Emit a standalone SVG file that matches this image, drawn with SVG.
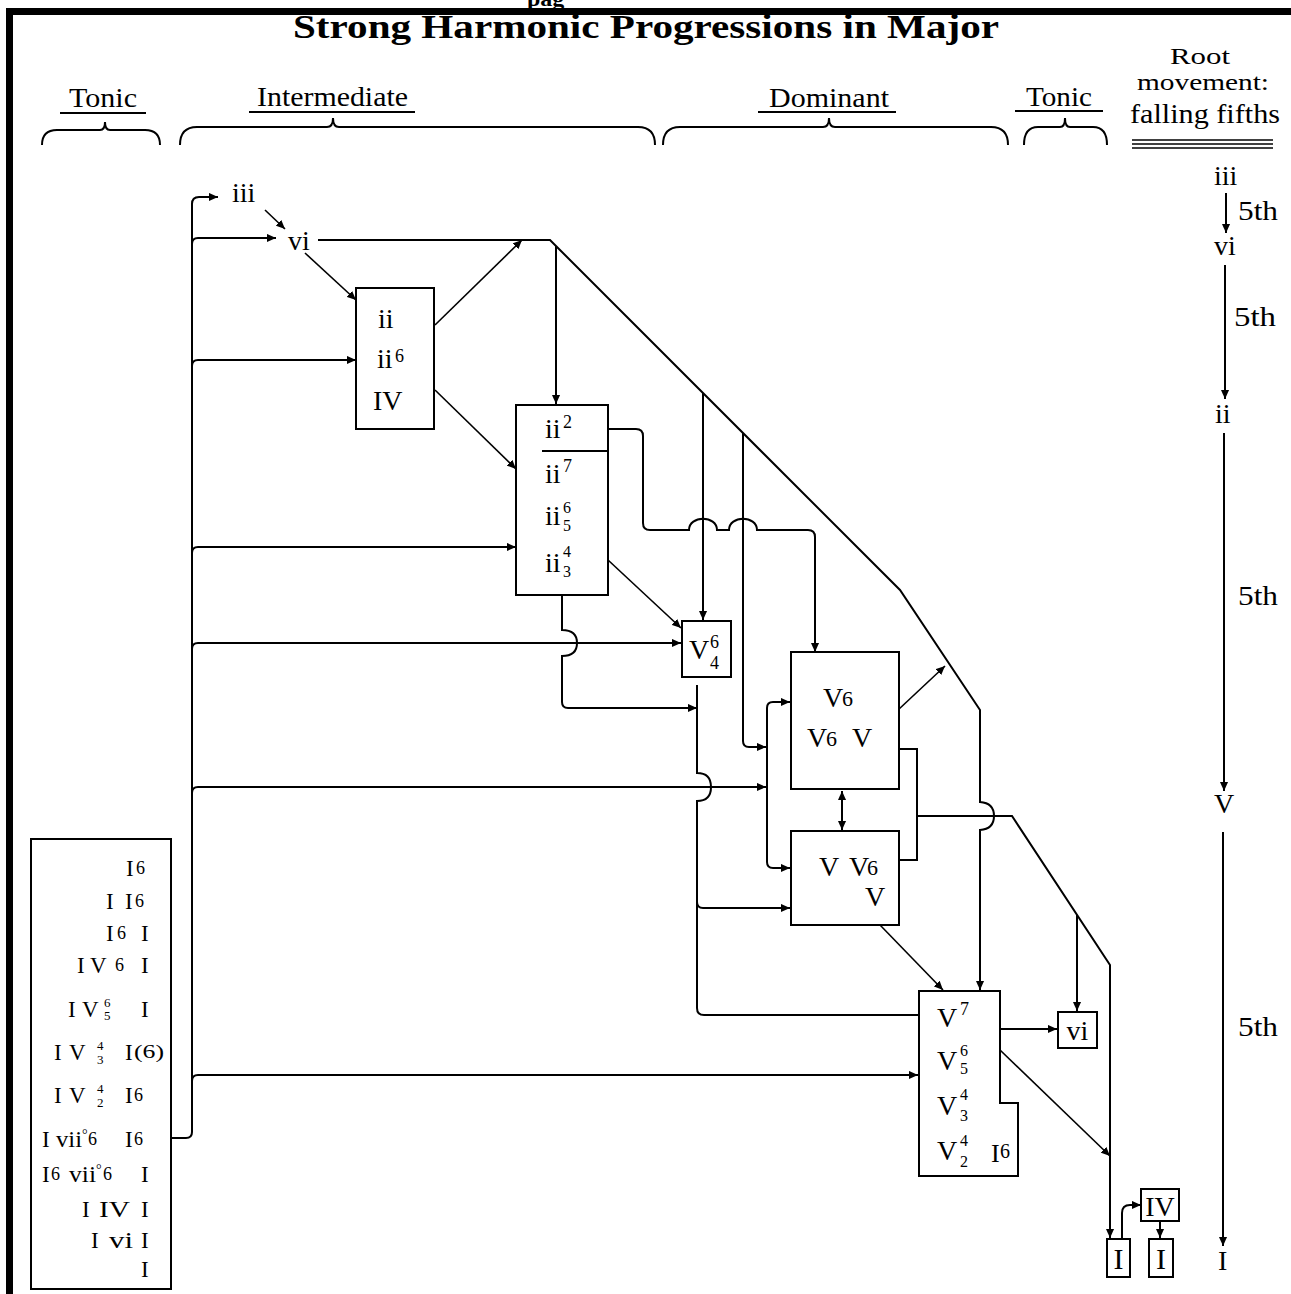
<svg xmlns="http://www.w3.org/2000/svg" width="1291" height="1294" viewBox="0 0 1291 1294">
<defs>
<marker id="a" viewBox="0 0 10 10" refX="10" refY="5" markerWidth="9" markerHeight="9" markerUnits="userSpaceOnUse" orient="auto-start-reverse"><path d="M0,0.5 L10,5 L0,9.5 z" fill="#000"/></marker>
</defs>
<style>
text{font-family:"Liberation Serif","Times New Roman",serif;fill:#000}
.h{font-size:28px}
.b{font-size:28px}
.s{font-size:18px}
.k{font-size:16px}
.l{font-size:23px}
.ls{font-size:18px}
.st{font-size:13px}
.box{fill:#fff;stroke:#000;stroke-width:2}
.c{fill:none;stroke:#000;stroke-width:2}
.d{fill:none;stroke:#000;stroke-width:1.6}
.u{stroke:#000;stroke-width:2}
</style>
<rect width="1291" height="1294" fill="#fff"/>
<!-- frame -->
<g id="frame">
<rect x="6" y="8" width="1285" height="7" fill="#000"/>
<rect x="6" y="8" width="7" height="1286" fill="#000"/>
<text x="527" y="6" style="font-size:24px;font-weight:bold">pag</text>
<text x="293" y="38" style="font-size:33px;font-weight:bold" textLength="706" lengthAdjust="spacingAndGlyphs">Strong Harmonic Progressions in Major</text>
</g>
<!-- headers -->
<g id="headers">
<text class="h" x="69" y="107" textLength="68" lengthAdjust="spacingAndGlyphs">Tonic</text>
<line class="u" x1="60" y1="113" x2="146" y2="113"/>
<path class="c" d="M42,145 Q42,130 57,130 H100 Q105,130 105,122 Q105,130 110,130 H145 Q160,130 160,145"/>
<text class="h" x="257" y="106" textLength="151" lengthAdjust="spacingAndGlyphs">Intermediate</text>
<line class="u" x1="249" y1="112" x2="415" y2="112"/>
<path class="c" d="M180,145 Q180,127 197,127 H327 Q333,127 333,118 Q333,127 339,127 H638 Q655,127 655,145"/>
<text class="h" x="769" y="107" textLength="120" lengthAdjust="spacingAndGlyphs">Dominant</text>
<line class="u" x1="758" y1="112" x2="896" y2="112"/>
<path class="c" d="M663,145 Q663,127 680,127 H823 Q829,127 829,118 Q829,127 835,127 H991 Q1008,127 1008,145"/>
<text class="h" x="1026" y="106" textLength="66" lengthAdjust="spacingAndGlyphs">Tonic</text>
<line class="u" x1="1015" y1="111" x2="1103" y2="111"/>
<path class="c" d="M1024,145 Q1024,127 1038,127 H1060 Q1065,127 1065,118 Q1065,127 1070,127 H1093 Q1107,127 1107,145"/>
<text x="1200" y="64" text-anchor="middle" style="font-size:24px" textLength="60" lengthAdjust="spacingAndGlyphs">Root</text>
<text x="1203" y="90" text-anchor="middle" style="font-size:24px" textLength="132" lengthAdjust="spacingAndGlyphs">movement:</text>
<text class="h" x="1205" y="123" text-anchor="middle" textLength="150" lengthAdjust="spacingAndGlyphs">falling fifths</text>
<line x1="1132" y1="140" x2="1273" y2="140" stroke="#000" stroke-width="1.6"/>
<line x1="1132" y1="144" x2="1273" y2="144" stroke="#000" stroke-width="1.6"/>
<line x1="1132" y1="148" x2="1273" y2="148" stroke="#000" stroke-width="1.6"/>
</g>
<!-- connectors -->
<g id="connectors">
<path class="c" d="M171,1138 H186 Q192,1138 192,1132 V204 Q192,197 199,197 H218" marker-end="url(#a)"/>
<path class="c" d="M192,244 Q192,238 198,238 H276" marker-end="url(#a)"/>
<path class="c" d="M192,366 Q192,360 198,360 H356" marker-end="url(#a)"/>
<path class="c" d="M192,553 Q192,547 198,547 H516" marker-end="url(#a)"/>
<path class="c" d="M192,649 Q192,643 198,643 H681" marker-end="url(#a)"/>
<path class="c" d="M192,793 Q192,787 198,787 H766" marker-end="url(#a)"/>
<path class="c" d="M192,1081 Q192,1075 198,1075 H918" marker-end="url(#a)"/>
<path class="d" d="M265,210 L285,229" marker-end="url(#a)"/>
<path class="c" d="M318,240 H550 L900,590 L980,710 V802 Q994,803 994,816 Q994,829 980,830 V990" marker-end="url(#a)"/>
<path class="c" d="M556,246 V404" marker-end="url(#a)"/>
<path class="d" d="M305,253 L356,300" marker-end="url(#a)"/>
<path class="d" d="M435,325 L522,240" marker-end="url(#a)"/>
<path class="d" d="M435,390 L516,469" marker-end="url(#a)"/>
<path class="c" d="M590,429 H636 Q643,429 643,436 V523 Q643,530 650,530 H689 C689,515 717,515 717,530 H729 C729,515 757,515 757,530 H808 Q815,530 815,537 V652" marker-end="url(#a)"/>
<path class="c" d="M703,393 V620" marker-end="url(#a)"/>
<path class="c" d="M743,433 V741 Q743,747 749,747 H766" marker-end="url(#a)"/>
<path class="d" d="M608,560 L681,628" marker-end="url(#a)"/>
<path class="c" d="M562,595 V630 Q577,630 577,643 Q577,656 562,656 V702 Q562,708 568,708 H697" marker-end="url(#a)"/>
<path class="c" d="M697,685 V773 Q711,773 711,787 Q711,801 697,801 V1008 Q697,1015 704,1015 H935" marker-end="url(#a)"/>
<path class="c" d="M697,902 Q697,908 703,908 H790" marker-end="url(#a)"/>
<path class="c" d="M767,785 V708 Q767,702 773,702 H790" marker-end="url(#a)"/>
<path class="c" d="M767,785 V862 Q767,868 773,868 H790" marker-end="url(#a)"/>
<path class="c" d="M842,791 V830" marker-start="url(#a)" marker-end="url(#a)"/>
<path class="c" d="M899,749 H917 V860 H899"/>
<path class="c" d="M917,816 H1012 L1110,965 V1238" marker-end="url(#a)"/>
<path class="c" d="M1077,915 V1011" marker-end="url(#a)"/>
<path class="d" d="M898,710 L945,666" marker-end="url(#a)"/>
<path class="d" d="M880,925 L943,990" marker-end="url(#a)"/>
<path class="c" d="M1000,1029 H1057" marker-end="url(#a)"/>
<path class="d" d="M1000,1050 L1110,1156" marker-end="url(#a)"/>
<path class="d" d="M992,1091 L979,1103 L1001,1126" marker-start="url(#a)" marker-end="url(#a)"/>
<path class="c" d="M1122,1239 V1213 Q1122,1205 1130,1205 H1141" marker-end="url(#a)"/>
<path class="c" d="M1160,1221 V1238" marker-end="url(#a)"/>
<path class="c" d="M1226,193 V233" marker-end="url(#a)"/>
<path class="c" d="M1225,265 V399" marker-end="url(#a)"/>
<path class="c" d="M1224,433 V791" marker-end="url(#a)"/>
<path class="c" d="M1223,832 V1246" marker-end="url(#a)"/>
</g>
<!-- root movement labels -->
<g id="root-iii"><text class="b" x="1214" y="185">iii</text></g>
<g id="root-vi"><text class="b" x="1214" y="255">vi</text></g>
<g id="root-ii"><text class="b" x="1215" y="423">ii</text></g>
<g id="root-V"><text class="b" x="1214" y="813">V</text></g>
<g id="root-I"><text class="b" x="1218" y="1270">I</text></g>
<g id="fifths">
<text class="b" x="1238" y="220" textLength="40" lengthAdjust="spacingAndGlyphs">5th</text>
<text class="b" x="1234" y="326" textLength="42" lengthAdjust="spacingAndGlyphs">5th</text>
<text class="b" x="1238" y="605" textLength="40" lengthAdjust="spacingAndGlyphs">5th</text>
<text class="b" x="1238" y="1036" textLength="40" lengthAdjust="spacingAndGlyphs">5th</text>
</g>
<!-- nodes -->
<g id="node-iii"><text class="b" x="232" y="202">iii</text></g>
<g id="node-vi"><text class="b" x="288" y="250">vi</text></g>
<g id="node-ii">
<rect class="box" x="356" y="288" width="78" height="141"/>
<text class="b" x="378" y="328">ii</text>
<text class="b" x="377" y="368">ii</text><text class="s" x="395" y="362">6</text>
<text class="b" x="373" y="410">IV</text>
</g>
<g id="node-ii7">
<rect class="box" x="516" y="405" width="92" height="190"/>
<line class="u" x1="542" y1="451" x2="608" y2="451"/>
<text class="b" x="545" y="438">ii</text><text class="s" x="563" y="428">2</text>
<text class="b" x="545" y="483">ii</text><text class="s" x="563" y="472">7</text>
<text class="b" x="545" y="525">ii</text><text class="k" x="563" y="513">6</text><text class="k" x="563" y="531">5</text>
<text class="b" x="545" y="572">ii</text><text class="k" x="563" y="557">4</text><text class="k" x="563" y="577">3</text>
</g>
<g id="node-V64">
<rect class="box" x="682" y="621" width="49" height="56"/>
<text class="b" x="689" y="659">V</text><text x="710" y="648" style="font-size:18px">6</text><text x="710" y="669" style="font-size:18px">4</text>
</g>
<g id="node-V6">
<rect class="box" x="791" y="652" width="108" height="137"/>
<text class="b" x="823" y="707">V</text><text x="842" y="706" style="font-size:22px">6</text>
<text class="b" x="807" y="747">V</text><text x="826" y="746" style="font-size:22px">6</text><text class="b" x="852" y="747">V</text>
</g>
<g id="node-V">
<rect class="box" x="791" y="831" width="108" height="94"/>
<text class="b" x="819" y="876">V</text><text class="b" x="849" y="876">V</text><text x="867" y="875" style="font-size:22px">6</text>
<text class="b" x="865" y="906">V</text>
</g>
<g id="node-V7">
<path class="box" d="M919,991 H1000 V1103 H1018 V1176 H919 Z"/>
<text class="b" x="937" y="1027">V</text><text class="s" x="960" y="1015">7</text>
<text class="b" x="937" y="1070">V</text><text class="k" x="960" y="1056">6</text><text class="k" x="960" y="1074">5</text>
<text class="b" x="937" y="1115">V</text><text class="k" x="960" y="1100">4</text><text class="k" x="960" y="1121">3</text>
<text class="b" x="937" y="1160">V</text><text class="k" x="960" y="1146">4</text><text class="k" x="960" y="1167">2</text>
<text class="b" x="991" y="1162" style="font-size:26px">I</text><text x="1000" y="1158" style="font-size:20px">6</text>
</g>
<g id="node-vi-end">
<rect class="box" x="1058" y="1012" width="39" height="36"/>
<text class="b" x="1077.5" y="1040" text-anchor="middle">vi</text>
</g>
<g id="node-IV-end">
<rect class="box" x="1141" y="1189" width="38" height="32"/>
<text class="b" x="1160" y="1216" text-anchor="middle">IV</text>
</g>
<g id="node-I-a">
<rect class="box" x="1107" y="1239" width="23" height="38"/>
<text class="b" x="1118.5" y="1269" text-anchor="middle" style="font-size:30px">I</text>
</g>
<g id="node-I-b">
<rect class="box" x="1149" y="1239" width="24" height="38"/>
<text class="b" x="1161" y="1269" text-anchor="middle" style="font-size:30px">I</text>
</g>
<g id="node-tonic-list">
<rect class="box" x="31" y="839" width="140" height="450"/>
<text class="l" x="126" y="876">I</text><text class="ls" x="136" y="874">6</text>
<text class="l" x="106" y="909">I</text><text class="l" x="125" y="909">I</text><text class="ls" x="135" y="907">6</text>
<text class="l" x="106" y="941">I</text><text class="ls" x="117" y="939">6</text><text class="l" x="141" y="941">I</text>
<text class="l" x="77" y="973">I</text><text class="l" x="90" y="973">V</text><text class="ls" x="115" y="971">6</text><text class="l" x="141" y="973">I</text>
<text class="l" x="68" y="1017">I</text><text class="l" x="82" y="1017">V</text><text class="st" x="104" y="1007">6</text><text class="st" x="104" y="1020">5</text><text class="l" x="141" y="1017">I</text>
<text class="l" x="54" y="1060">I</text><text class="l" x="69" y="1060">V</text><text class="st" x="97" y="1050">4</text><text class="st" x="97" y="1064">3</text><text class="l" x="125" y="1060">I</text><text class="ls" x="134" y="1058" textLength="30" lengthAdjust="spacingAndGlyphs">(6)</text>
<text class="l" x="54" y="1103">I</text><text class="l" x="69" y="1103">V</text><text class="st" x="97" y="1093">4</text><text class="st" x="97" y="1107">2</text><text class="l" x="125" y="1103">I</text><text class="ls" x="134" y="1101">6</text>
<text class="l" x="42" y="1147">I</text><text class="l" x="56" y="1147" textLength="26" lengthAdjust="spacingAndGlyphs">vii</text><text x="82" y="1139" style="font-size:14px">°</text><text class="ls" x="88" y="1145">6</text><text class="l" x="125" y="1147">I</text><text class="ls" x="134" y="1145">6</text>
<text class="l" x="42" y="1182">I</text><text class="ls" x="51" y="1180">6</text><text class="l" x="69" y="1182" textLength="27" lengthAdjust="spacingAndGlyphs">vii</text><text x="96" y="1174" style="font-size:14px">°</text><text class="ls" x="103" y="1180">6</text><text class="l" x="141" y="1182">I</text>
<text class="l" x="82" y="1217">I</text><text class="l" x="99" y="1217" textLength="31" lengthAdjust="spacingAndGlyphs">IV</text><text class="l" x="141" y="1217">I</text>
<text class="l" x="91" y="1248">I</text><text class="l" x="109" y="1248" textLength="24" lengthAdjust="spacingAndGlyphs">vi</text><text class="l" x="141" y="1248">I</text>
<text class="l" x="141" y="1277">I</text>
</g>
</svg>
